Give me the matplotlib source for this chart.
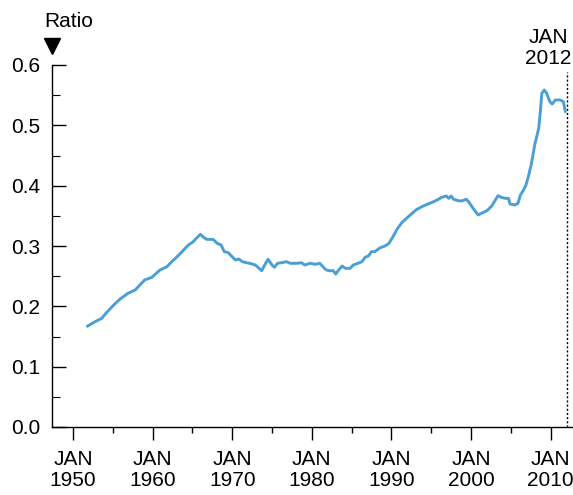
import matplotlib
matplotlib.use("Agg")
import matplotlib.pyplot as plt
from matplotlib.ticker import FixedLocator, FormatStrFormatter

# Monthly-ish ratio series, Jan 1952 through Jan 2012
years = [
    1951.8, 1952.76, 1953.6, 1954.2, 1955.1, 1955.9, 1956.9, 1957.8, 1958.4, 1959.0,
    1959.9, 1960.9, 1961.8, 1962.4, 1963.0, 1963.7, 1964.5, 1965.1, 1965.5, 1966.0,
    1966.4, 1966.8, 1967.6, 1968.1, 1968.6, 1969.0, 1969.5, 1969.9, 1970.4, 1970.8,
    1971.3, 1971.8, 1972.2, 1972.9, 1973.5, 1973.7, 1974.2, 1974.5, 1975.0, 1975.3,
    1975.7, 1976.2, 1976.8, 1977.3, 1978.1, 1978.7, 1979.1, 1979.8, 1980.4, 1981.0,
    1981.7, 1982.1, 1982.7, 1983.0, 1983.3, 1983.8, 1984.2, 1984.8, 1985.2, 1985.8,
    1986.3, 1986.7, 1987.1, 1987.5, 1987.9, 1988.6, 1989.2, 1989.7, 1990.2, 1990.7,
    1991.3, 1991.9, 1992.6, 1993.2, 1994.0, 1994.6, 1995.3, 1995.9, 1996.3, 1996.9,
    1997.2, 1997.5, 1997.8, 1998.4, 1998.8, 1999.4, 1999.7, 2000.2, 2000.9, 2001.3,
    2002.0, 2002.6, 2003.0, 2003.4, 2003.8, 2004.3, 2004.7, 2004.9, 2005.5, 2005.9,
    2006.2, 2006.6, 2006.9, 2007.2, 2007.6, 2008.0, 2008.5, 2008.7, 2008.9, 2009.2,
    2009.5, 2009.9, 2010.2, 2010.6, 2011.2, 2011.6, 2011.85,
]
ratio = [
    0.167, 0.1745, 0.180, 0.1895, 0.202, 0.212, 0.2216, 0.227, 0.2354, 0.2437,
    0.248, 0.260, 0.2657, 0.274, 0.2813, 0.2906, 0.3017, 0.3071, 0.3128, 0.3194,
    0.3144, 0.311, 0.311, 0.3045, 0.3017, 0.2906, 0.289, 0.2834, 0.2768, 0.2785,
    0.274, 0.2723, 0.2713, 0.2685, 0.2614, 0.259, 0.2713, 0.278, 0.2685, 0.2647,
    0.2713, 0.2723, 0.274, 0.2713, 0.2713, 0.2723, 0.2685, 0.2713, 0.2697, 0.2713,
    0.2614, 0.259, 0.259, 0.2536, 0.259, 0.2669, 0.263, 0.263, 0.2685, 0.2713,
    0.274, 0.2813, 0.2834, 0.2906, 0.2906, 0.2972, 0.300, 0.3045, 0.3154, 0.3277,
    0.3386, 0.346, 0.3542, 0.3608, 0.3663, 0.3696, 0.3734, 0.3774, 0.3807, 0.3829,
    0.379, 0.3829, 0.3774, 0.3751, 0.3746, 0.3774, 0.3734, 0.3635, 0.3514, 0.3542,
    0.3585, 0.3663, 0.3751, 0.3834, 0.3807, 0.379, 0.379, 0.3696, 0.368, 0.3708,
    0.3845, 0.3928, 0.4011, 0.4149, 0.4371, 0.4674, 0.4951, 0.522, 0.5531, 0.5586,
    0.5531, 0.5392, 0.5354, 0.542, 0.542, 0.5392, 0.5226,
]

decade_ticks = [1950, 1960, 1970, 1980, 1990, 2000, 2010]
decade_labels = [f"JAN\n{y}" for y in decade_ticks]
half_decade_ticks = [1955, 1965, 1975, 1985, 1995, 2005]
y_major = [0.0, 0.1, 0.2, 0.3, 0.4, 0.5, 0.6]
y_minor = [0.05, 0.15, 0.25, 0.35, 0.45, 0.55]

latest_year = 2012
latest_label = "JAN\n2012"
y_title = "Ratio"

plt.rcParams['font.family'] = ['Liberation Sans', 'DejaVu Sans']
plt.rcParams['font.size'] = 15

W, H = 573, 495
fig = plt.figure(figsize=(W / 100, H / 100), dpi=100)
fig.patch.set_facecolor('white')
ax = fig.add_axes([52 / W, 1 - 427 / H, 521 / W, 362 / H])

ax.plot(years, ratio, color='#4a9fd6', lw=2.1, solid_joinstyle='round',
        solid_capstyle='round', zorder=3)

# dotted marker for the most recent observation
ax.plot([latest_year, latest_year], [0, 0.588], color='black', lw=1.0,
        linestyle=(0, (1.5, 1.5)), clip_on=False, zorder=2)

ax.set_xlim(1947.36, 2012.81)
ax.set_ylim(0, 0.6)

for side in ('top', 'right'):
    ax.spines[side].set_visible(False)
for side in ('left', 'bottom'):
    ax.spines[side].set_linewidth(1.0)
    ax.spines[side].set_color('black')

ax.xaxis.set_major_locator(FixedLocator(decade_ticks))
ax.xaxis.set_minor_locator(FixedLocator(half_decade_ticks))
ax.set_xticklabels(decade_labels, linespacing=1.12)
ax.yaxis.set_major_locator(FixedLocator(y_major))
ax.yaxis.set_minor_locator(FixedLocator(y_minor))
ax.yaxis.set_major_formatter(FormatStrFormatter('%.1f'))

ax.tick_params(axis='x', which='major', direction='out', length=9.5, width=1.0, pad=7)
ax.tick_params(axis='x', which='minor', direction='out', length=4.3, width=1.0)
ax.tick_params(axis='y', which='major', direction='in', length=10, width=1.0, pad=8.5)
ax.tick_params(axis='y', which='minor', direction='in', length=5.8, width=0.8)

# axis title with a downward pointer above the y axis
fig.text(44 / W, 1 - 27 / H, y_title, ha='left', va='baseline', fontsize=15)
fig.add_artist(plt.Line2D([52 / W], [1 - 46 / H], marker='v', markersize=11,
                          color='black', transform=fig.transFigure))

fig.text(548 / W, 1 - 64 / H, latest_label, ha='center', va='baseline',
         multialignment='center', linespacing=1.12, fontsize=15)

fig.savefig('out.png', dpi=100, facecolor='white')
